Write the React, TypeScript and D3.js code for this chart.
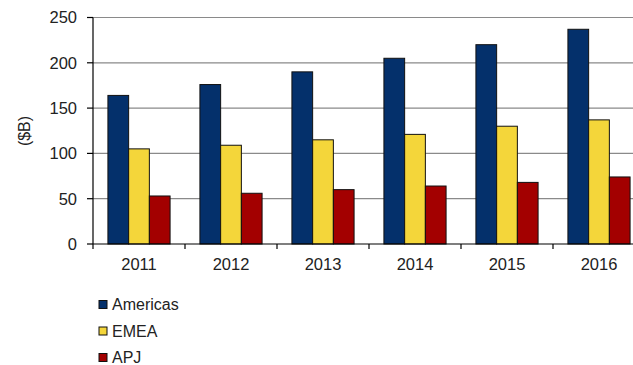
import React from "react";
import * as d3 from "d3";

const years = ["2011", "2012", "2013", "2014", "2015", "2016"];
const seriesNames = ["Americas", "EMEA", "APJ"];
const americas = [164, 176, 190, 205, 220, 237];
const emea = [105, 109, 115, 121, 130, 137];
const apj = [53, 56, 60, 64, 68, 74];
const yTicks = [0, 50, 100, 150, 200, 250];
const colors = ["#04306b", "#f4d63a", "#a30000"];

const W = 633;
const H = 365;
const left = 93;
const right = 645;
const top = 17.5;
const bottom = 244;
const font = "'Liberation Sans', Arial, sans-serif";

export default function App() {
  const values = [americas, emea, apj];
  const x = d3.scaleBand<string>().domain(years).range([left, right]).paddingInner(0).paddingOuter(0);
  const inner = d3.scaleBand<string>().domain(seriesNames).range([0, x.bandwidth()]).paddingInner(0).paddingOuter(0.72);
  const y = d3.scaleLinear().domain([0, 250]).range([bottom, top]);

  return (
    <svg width={W} height={H} style={{ position: "absolute", left: 0, top: 0, background: "#fff" }} fontFamily={font}>
      {yTicks.filter((t) => t > 0).map((t) => (
        <line key={"g" + t} x1={left} x2={right} y1={y(t)} y2={y(t)} stroke="#8a8a8a" strokeWidth={1.2} />
      ))}
      {years.map((yr, i) =>
        seriesNames.map((s, j) => {
          const v = values[j][i];
          const bx = (x(yr) as number) + (inner(s) as number);
          return (
            <rect
              key={yr + s}
              x={bx}
              y={y(v)}
              width={inner.bandwidth()}
              height={y(0) - y(v)}
              fill={colors[j]}
              stroke="#111"
              strokeWidth={1}
            />
          );
        })
      )}
      <line x1={left} x2={left} y1={top} y2={bottom} stroke="#000" strokeWidth={1.2} />
      <line x1={left} x2={right} y1={bottom} y2={bottom} stroke="#000" strokeWidth={1.2} />
      {yTicks.map((t) => (
        <g key={"yt" + t}>
          <line x1={left - 6} x2={left} y1={y(t)} y2={y(t)} stroke="#000" strokeWidth={1.2} />
          <text x={77} y={y(t)} dy="0.36em" textAnchor="end" fontSize={16.5} fill="#222">
            {t}
          </text>
        </g>
      ))}
      {[...years.map((yr) => x(yr) as number), right].map((px, i) => (
        <line key={"xt" + i} x1={px} x2={px} y1={bottom} y2={bottom + 5} stroke="#000" strokeWidth={1.2} />
      ))}
      {years.map((yr) => (
        <text key={"xl" + yr} x={(x(yr) as number) + x.bandwidth() / 2} y={270} textAnchor="middle" fontSize={16.5} fill="#222">
          {yr}
        </text>
      ))}
      <text transform={`translate(30,131) rotate(-90)`} textAnchor="middle" fontSize={16} fill="#222">
        ($B)
      </text>
      {seriesNames.map((s, j) => (
        <g key={"lg" + s} transform={`translate(99,${304.5 + j * 26.5})`}>
          <rect x={0} y={-4} width={8} height={8} fill={colors[j]} stroke="#111" strokeWidth={1} />
          <text x={13} y={0} dy="0.36em" fontSize={16} fill="#222">
            {s}
          </text>
        </g>
      ))}
    </svg>
  );
}
